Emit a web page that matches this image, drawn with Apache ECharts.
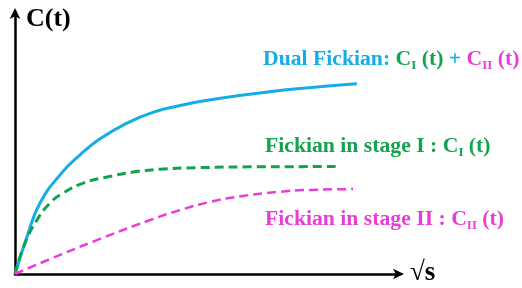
<!DOCTYPE html>
<html>
<head>
<meta charset="utf-8">
<script src="https://cdn.jsdelivr.net/npm/echarts@6/dist/echarts.min.js"></script>
<style>
  html, body { margin: 0; padding: 0; background: #fff; }
  #chart { width: 522px; height: 288px; }
</style>
</head>
<body>
<div id="chart"></div>
<script>
// 曲线数据 (x: √s, y: C(t)), 近似值
const dualX = [0, 0.31, 0.65, 1.22, 1.69, 2.21, 2.91, 3.58, 4.29, 4.88, 5.77, 6.62, 7.48, 8.36, 8.88]
const dualY = [0, 1.41, 2.71, 3.87, 4.55, 5.16, 5.76, 6.17, 6.43, 6.60, 6.80, 6.96, 7.09, 7.20, 7.26]
const stage1X = [0, 0.26, 0.57, 0.91, 1.25, 1.77, 2.39, 3.06, 3.77, 4.81, 6.10, 8.44]
const stage1Y = [0, 1.18, 2.06, 2.71, 3.09, 3.47, 3.70, 3.89, 4.00, 4.06, 4.09, 4.10]
const stage2X = [0, 0.91, 2.21, 3.51, 4.29, 5.06, 5.92, 6.81, 7.66, 8.78]
const stage2Y = [0, 0.57, 1.34, 2.06, 2.44, 2.75, 2.98, 3.13, 3.21, 3.24]

const pair = (xs, ys) => xs.map((x, i) => [x, ys[i]])

const blue = '#15ADE6'
const green = '#13A24E'
const pink = '#E93DD7'
const serif = '"Liberation Serif", "DejaVu Serif", serif'

const chart = echarts.init(document.getElementById('chart'))

const axisStyle = {
  show: true,
  symbol: ['none', 'arrow'],
  symbolSize: [8, 11],
  symbolOffset: [0, 4],
  lineStyle: { color: '#000', width: 2.5 }
}

// 文字的富文本样式 (graphic 里用 fill 表示颜色)
const base = { fontFamily: serif, fontWeight: 'bold', fontSize: 21.7, lineHeight: 30 }
const sub = { fontFamily: serif, fontWeight: 'bold', fontSize: 13, padding: [14, 0, 0, 0] }
const rich = {
  b: Object.assign({ fill: blue }, base),
  g: Object.assign({ fill: green }, base),
  gs: Object.assign({ fill: green }, sub),
  m: Object.assign({ fill: pink }, base),
  ms: Object.assign({ fill: pink }, sub)
}

const lineSeries = (xs, ys, color, width, dashed) => ({
  type: 'line',
  smooth: 0.5,
  symbol: 'none',
  data: pair(xs, ys),
  lineStyle: { color: color, width: width, type: dashed ? [9, 5] : 'solid' }
})

const option = {
  animation: false,
  grid: { left: 15, right: 122, top: 12, bottom: 14 },
  xAxis: {
    type: 'value', min: 0, max: 10,
    axisLine: axisStyle,
    axisTick: { show: false }, axisLabel: { show: false }, splitLine: { show: false }
  },
  yAxis: {
    type: 'value', min: 0, max: 10,
    axisLine: axisStyle,
    axisTick: { show: false }, axisLabel: { show: false }, splitLine: { show: false }
  },
  series: [
    lineSeries(dualX, dualY, blue, 3, false),
    lineSeries(stage1X, stage1Y, green, 3, true),
    lineSeries(stage2X, stage2Y, pink, 2.5, true)
  ],
  graphic: [
    {
      type: 'text', left: 26, top: 6,
      style: { text: 'C(t)', font: 'bold 26px ' + serif, fill: '#000' }
    },
    {
      type: 'text', left: 410, top: 260,
      style: { text: '√s', font: 'bold 27px ' + serif, fill: '#000' }
    },
    {
      type: 'text', left: 263, top: 48,
      style: { text: '{b|Dual Fickian: }{g|C}{gs|I}{g| (t) }{b|+ }{m|C}{ms|II}{m| (t)}', rich: rich }
    },
    {
      type: 'text', left: 265, top: 135,
      style: { text: '{g|Fickian in stage I : C}{gs|I}{g| (t)}', rich: rich }
    },
    {
      type: 'text', left: 265, top: 208,
      style: { text: '{m|Fickian in stage II : C}{ms|II}{m| (t)}', rich: rich }
    }
  ]
}

chart.setOption(option)
</script>
</body>
</html>
